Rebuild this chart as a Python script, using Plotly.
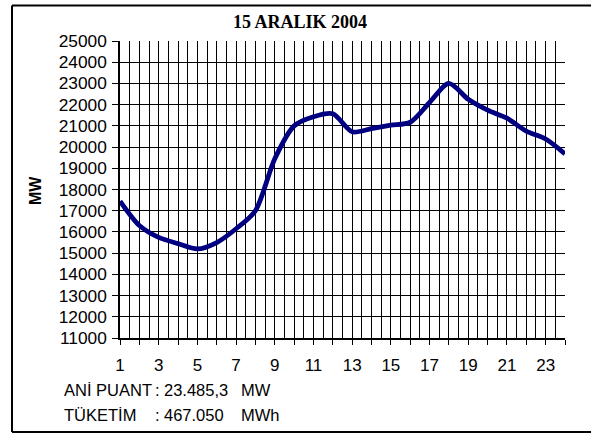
import plotly.graph_objects as go

hours = list(range(1, 25))
load_mw = [17450, 16300, 15740, 15450, 15200, 15500, 16150, 17000,
           19450, 21000, 21430, 21570, 20720, 20870, 21030, 21170,
           22100, 23000, 22250, 21740, 21360, 20750, 20380, 19680]
x_tick_labels = [str(h) if h % 2 == 1 else "" for h in hours]
y_ticks = list(range(11000, 25001, 1000))
y_tick_labels = [str(v) for v in y_ticks]

title_text = "15 ARALIK 2004"
y_title = "MW"
info_rows = [
    ("ANİ PUANT", ":", "23.485,3", "MW"),
    ("TÜKETİM", ":", "467.050", "MWh"),
]

W, H = 591, 435
L, R, T, B = 120, 26, 41, 97
PW, PH = W - L - R, H - T - B


def px(x):
    return (x - L) / PW


def py(y):
    return (H - B - y) / PH


fig = go.Figure()
fig.add_trace(go.Scatter(
    x=hours, y=load_mw, mode="lines",
    line=dict(color="#000080", width=4.8, shape="spline", smoothing=0.8),
    hoverinfo="skip", showlegend=False,
))

font_sans = "Liberation Sans, Arial, sans-serif"

border = dict(color="black", width=2)
fig.update_layout(
    width=W, height=H,
    margin=dict(l=L, r=R, t=T, b=B, pad=0),
    paper_bgcolor="white", plot_bgcolor="white",
    showlegend=False,
    xaxis=dict(
        range=[1, 24], tickmode="array", tickvals=hours, ticktext=x_tick_labels,
        ticks="outside", ticklen=5, tickcolor="black", tickwidth=1,
        showgrid=True, gridcolor="black", gridwidth=1,
        minor=dict(tickmode="linear", tick0=1, dtick=0.5, showgrid=True,
                   gridcolor="black", gridwidth=1, ticks=""),
        showline=True, linecolor="black", linewidth=1.5,
        tickfont=dict(family=font_sans, size=17, color="black"),
        ticklabelstandoff=6, zeroline=False, fixedrange=True,
    ),
    yaxis=dict(
        range=[11000, 25000], tickmode="array", tickvals=y_ticks, ticktext=y_tick_labels,
        ticks="outside", ticklen=6, tickcolor="black", tickwidth=1,
        showgrid=True, gridcolor="black", gridwidth=1,
        showline=True, linecolor="black", linewidth=1.5,
        tickfont=dict(family=font_sans, size=17.3, color="black"),
        ticklabelstandoff=2, zeroline=False, fixedrange=True,
    ),
    shapes=[
        dict(type="line", xref="paper", yref="paper", x0=px(12), x1=px(600),
             y0=py(5.5), y1=py(5.5), line=border, layer="above"),
        dict(type="line", xref="paper", yref="paper", x0=px(12), x1=px(600),
             y0=py(432), y1=py(432), line=border, layer="above"),
        dict(type="line", xref="paper", yref="paper", x0=px(12), x1=px(12),
             y0=py(5.5), y1=py(432), line=border, layer="above"),
    ],
)

ann = []
ann.append(dict(text="<b>" + title_text + "</b>", x=px(300), y=py(22),
                xref="paper", yref="paper", xanchor="center", yanchor="middle",
                showarrow=False,
                font=dict(family="Liberation Serif, Times New Roman, serif", size=18, color="black")))
ann.append(dict(text="<b>" + y_title + "</b>", x=px(36), y=py(191),
                xref="paper", yref="paper", xanchor="center", yanchor="middle",
                textangle=-90, showarrow=False,
                font=dict(family=font_sans, size=16, color="black")))

row_y = [390, 415]
col_x = [62, 153, 162, 239]
for yy, row in zip(row_y, info_rows):
    for xx, txt in zip(col_x, row):
        ann.append(dict(text=txt, x=px(xx), y=py(yy), xref="paper", yref="paper",
                        xanchor="left", yanchor="middle", showarrow=False,
                        font=dict(family=font_sans, size=16.5, color="black")))
fig.update_layout(annotations=ann)

fig.write_html(
    "out.html",
    config={"displayModeBar": False},
    post_script="document.body.style.margin='0';document.body.style.overflow='hidden';",
)
